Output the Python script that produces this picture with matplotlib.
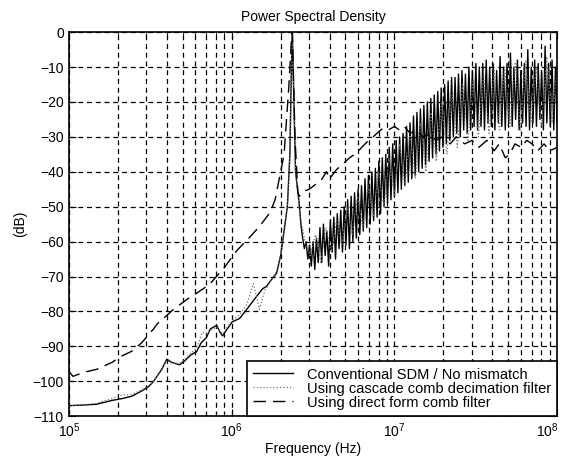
import numpy as np
import matplotlib
matplotlib.use("Agg")
import matplotlib.pyplot as plt
import matplotlib.transforms as mtransforms

plt.rcParams["font.family"] = ["Liberation Sans", "DejaVu Sans"]
plt.rcParams["mathtext.fontset"] = "custom"
plt.rcParams["mathtext.rm"] = "Liberation Sans"
plt.rcParams["mathtext.it"] = "Liberation Sans"

# --------------------------------------------------------------------------- #
# data (frequency in Hz, level in dB)
# --------------------------------------------------------------------------- #
# conventional SDM, below and around the signal tone
conv_freq = [1.0e5, 1.25e5, 1.48e5, 1.84e5, 2.11e5, 2.44e5, 2.8e5, 3.1e5, 3.32e5,
             3.72e5, 4.0e5, 4.28e5, 4.79e5, 5.2e5, 5.6e5, 6.1e5, 6.5e5, 7.0e5,
             7.4e5, 8.1e5, 8.5e5, 8.8e5, 9.4e5, 1.01e6, 1.12e6, 1.24e6, 1.33e6,
             1.43e6, 1.55e6, 1.64e6, 1.75e6, 1.89e6, 2.0e6, 2.1e6, 2.2e6, 2.28e6,
             2.33e6, 2.36e6, 2.40e6, 2.47e6, 2.54e6]
conv_db = [-107, -106.8, -106.6, -105.5, -105, -104.3, -102.8, -101.5, -100,
           -96.6, -93.7, -94.6, -95.3, -94, -92.5, -91.5, -89, -87.5,
           -85, -84, -86, -87, -85, -83, -82, -79.4, -77.5,
           -75.6, -73.5, -72.8, -71, -69, -64, -57, -50, -35,
           -10, 0, -15, -40, -45]
# conventional SDM, shaped quantisation noise above the tone (2.6 MHz .. 100 MHz)
conv_noise_db = [-49, -55, -59, -62, -60, -65, -61, -67, -60, -68, -59, -66,
                 -56, -66, -55, -64, -57, -67, -54, -63, -53, -65, -52, -62,
                 -51, -63, -50, -61, -48, -62, -47, -60, -46, -59, -45, -58,
                 -44, -57, -42, -56, -41, -55, -40, -54, -39, -53, -37, -52,
                 -36, -50, -35, -49, -33, -48, -32, -47, -31, -46, -30,
                 -45, -29, -44, -27, -43, -26, -42, -24, -41, -23, -40, -22,
                 -39, -21, -38, -20, -37, -19, -36, -18, -35, -17, -34, -16,
                 -33, -15, -32, -14, -31, -13, -30, -13, -29, -12, -30, -11,
                 -28, -12, -29, -10, -28, -11, -27, -9, -28, -10, -27, -9,
                 -28, -8, -26, -10, -27, -9, -28, -11, -26, -7, -27, -10,
                 -28, -9, -26, -6, -27, -10, -25, -8, -28, -11, -26, -9,
                 -27, -5, -28, -10, -26, -8, -27, -9, -25, -11, -28, -4,
                 -26, -9, -27, -8, -28, -10, -26]

# cascade comb decimation filter
casc_freq = [1.0e5, 1.25e5, 1.48e5, 1.84e5, 2.11e5, 2.44e5, 2.8e5, 3.1e5, 3.32e5,
             3.72e5, 4.0e5, 4.28e5, 4.79e5, 5.2e5, 5.6e5, 6.1e5, 6.6e5, 7.0e5,
             7.4e5, 8.1e5, 8.8e5, 9.4e5, 1.01e6, 1.12e6, 1.24e6, 1.36e6, 1.48e6,
             1.6e6, 1.7e6, 1.89e6, 2.0e6, 2.1e6, 2.2e6, 2.28e6, 2.33e6, 2.36e6,
             2.40e6, 2.47e6, 2.54e6]
casc_db = [-107, -106.7, -106.3, -105, -104, -103.8, -102.5, -101.3, -100,
           -96.8, -94, -94.8, -95, -93.5, -92, -90.5, -86, -86.5,
           -85.5, -84.5, -86.5, -84.5, -82.5, -81, -78, -72, -79.4,
           -74, -72, -68.5, -63.5, -56.5, -49.5, -35, -10, 0,
           -15, -40, -45]
casc_noise_db = [-52, -60, -64, -58, -66, -56, -63, -54, -61, -50,
                 -58, -47, -56, -44, -53, -40, -50, -36, -47, -32,
                 -44, -29, -42, -26, -40, -23, -37, -20, -35, -18,
                 -33, -15, -31, -14, -30, -12, -29, -11, -28, -10,
                 -27, -9, -28, -8, -26, -10, -27, -7, -26, -9]

# direct form comb filter
direct_freq = [1.01e5, 1.06e5, 1.25e5, 1.48e5, 1.84e5, 2.11e5, 2.44e5, 2.8e5,
               3.32e5, 3.47e5, 4.4e5, 5.3e5, 6.0e5, 7.3e5, 9.0e5, 1.08e6, 1.3e6,
               1.48e6, 1.72e6, 1.85e6, 2.1e6, 2.25e6, 2.33e6, 2.36e6, 2.45e6,
               2.55e6, 2.61e6, 2.8e6, 3.0e6, 3.3e6, 3.6e6, 3.82e6, 4.0e6, 4.4e6,
               4.9e6, 5.3e6, 5.85e6, 6.3e6, 6.7e6, 7.2e6, 7.8e6, 8.5e6, 9.2e6,
               1.0e7, 1.07e7, 1.15e7, 1.25e7, 1.36e7, 1.5e7, 1.65e7, 1.8e7, 1.97e7,
               2.2e7, 2.4e7, 2.7e7, 3.0e7, 3.3e7, 3.7e7, 4.1e7, 4.4e7, 4.8e7,
               5.1e7, 5.5e7, 6.0e7, 6.5e7, 7.0e7, 7.6e7, 8.3e7, 9.0e7, 1.0e8]
direct_db = [-97.4, -98.6, -97.4, -96.6, -94.6, -92.8, -91.4, -89,
             -85, -83.7, -79.4, -76.6, -75, -72.3, -67.5, -62.5, -58.6,
             -55.7, -51.7, -48, -35, -15, -2, 0, -30,
             -46, -47, -45.5, -45, -43.5, -42, -40, -42, -39.4,
             -37.5, -36, -34.6, -33, -31.7, -30.5, -29, -27.5, -28,
             -27, -28, -27, -29, -28, -30, -29, -31, -30,
             -32, -30, -32, -31, -33, -31, -34, -32, -36,
             -35, -32, -33, -31, -32, -34, -32, -34, -33]

LABELS = ["Conventional SDM / No mismatch",
          "Using cascade comb decimation filter",
          "Using direct form comb filter"]

# frequency bins of the noise records above the tone
conv_noise_freq = np.geomspace(2.6e6, 1e8, len(conv_noise_db))
casc_noise_freq = np.geomspace(2.62e6, 1e8, len(casc_noise_db))

fig = plt.figure(figsize=(5.64, 4.66), dpi=100)
ax = fig.add_axes([0.122, 0.107, 0.866, 0.824])

grid_kw = dict(color="k", lw=0.9, linestyle=(0, (4, 3)))

ax.plot(np.r_[conv_freq, conv_noise_freq], np.r_[conv_db, conv_noise_db],
        color="k", lw=1.0, label=LABELS[0])
ax.plot(np.r_[casc_freq, casc_noise_freq], np.r_[casc_db, casc_noise_db],
        color="0.45", lw=0.9, linestyle=":", label=LABELS[1])
ax.plot(direct_freq, direct_db, color="k", lw=1.0, linestyle=(0, (9, 5)),
        label=LABELS[2])

ax.set_xscale("log")
ax.set_xlim(1e5, 1e8)
ax.set_ylim(-110, 0)
ax.set_yticks(np.arange(-110, 1, 10))
ax.set_xticks([1e5, 1e6, 1e7, 1e8])
ax.grid(True, which="both", axis="x", **grid_kw)
ax.grid(True, which="major", axis="y", **grid_kw)
ax.tick_params(which="both", direction="in", top=True, right=True, labelsize=10)
ax.tick_params(which="major", length=5)
ax.tick_params(which="minor", length=3)
for s in ax.spines.values():
    s.set_linewidth(1.2)

# keep the last decade label inside the figure, as in the reference
fig.canvas.draw()
last = ax.get_xticklabels()[-1]
last.set_transform(last.get_transform() +
                   mtransforms.ScaledTranslation(-10 / 100, 0, fig.dpi_scale_trans))

ax.set_title("Power Spectral Density", fontsize=10, pad=8)
ax.set_xlabel("Frequency (Hz)", fontsize=10, labelpad=2)
ax.set_ylabel("(dB)", fontsize=10, labelpad=4)

leg = ax.legend(loc="lower right", borderaxespad=0, fancybox=False,
                edgecolor="k", framealpha=1, fontsize=10.5, handlelength=2.75,
                handletextpad=0.9, labelspacing=0.0, borderpad=0.45)
leg.get_frame().set_linewidth(1.2)

fig.savefig("out.png", dpi=100)
